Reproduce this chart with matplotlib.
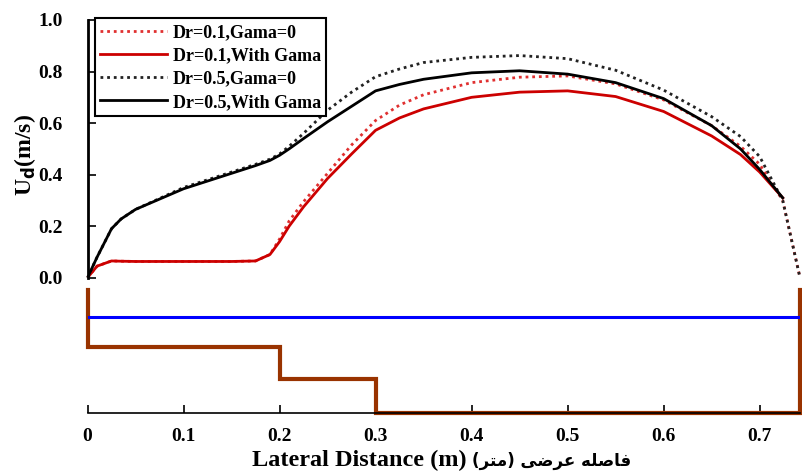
import numpy as np
import matplotlib
matplotlib.use("Agg")
import matplotlib.pyplot as plt

# lateral positions (m)
x_full = [0, 0.01, 0.025, 0.035, 0.05, 0.1, 0.15, 0.175, 0.19, 0.2, 0.21, 0.225, 0.25,
          0.275, 0.3, 0.325, 0.35, 0.4, 0.45, 0.5, 0.55, 0.6, 0.65, 0.68, 0.7,
          0.724, 0.742]
x_gama = x_full[:-1]

# depth averaged velocity Ud (m/s)
dr01_gama0 = [0, 0.045, 0.065, 0.064, 0.063, 0.063, 0.063, 0.065, 0.09, 0.15, 0.22, 0.295,
              0.405, 0.515, 0.61, 0.67, 0.71, 0.757, 0.778, 0.783, 0.752, 0.69,
              0.59, 0.51, 0.44, 0.3, 0.0]
dr01_with = [0, 0.045, 0.065, 0.064, 0.063, 0.063, 0.063, 0.065, 0.09, 0.14, 0.2, 0.275,
             0.385, 0.48, 0.572, 0.62, 0.655, 0.7, 0.72, 0.725, 0.703, 0.645,
             0.55, 0.478, 0.41, 0.31]
dr05_gama0 = [0, 0.08, 0.19, 0.228, 0.265, 0.35, 0.41, 0.44, 0.46, 0.48, 0.51, 0.56,
              0.65, 0.72, 0.78, 0.81, 0.835, 0.855, 0.862, 0.85, 0.805, 0.728,
              0.625, 0.548, 0.47, 0.3, 0.0]
dr05_with = [0, 0.08, 0.19, 0.228, 0.265, 0.345, 0.405, 0.435, 0.455, 0.475, 0.5, 0.54,
             0.605, 0.665, 0.725, 0.75, 0.77, 0.795, 0.803, 0.79, 0.757, 0.695,
             0.59, 0.5, 0.42, 0.31]

# channel cross section (drawn below the velocity profile)
section_x = [0, 0, 0.2, 0.2, 0.3, 0.3, 0.742, 0.742]
section_y = [-0.047, -0.268, -0.268, -0.392, -0.392, -0.525, -0.525, -0.047]
water_x = [0, 0.742]
water_y = [-0.151, -0.151]

xticks = [0, 0.1, 0.2, 0.3, 0.4, 0.5, 0.6, 0.7]
xticklabels = ["0", "0.1", "0.2", "0.3", "0.4", "0.5", "0.6", "0.7"]
yticks = [0, 0.2, 0.4, 0.6, 0.8, 1.0]
yticklabels = ["0.0", "0.2", "0.4", "0.6", "0.8", "1.0"]

plt.rcParams['font.family'] = ['Liberation Serif', 'DejaVu Sans']
plt.rcParams['font.weight'] = 'bold'

fig = plt.figure(figsize=(8.02, 4.72), dpi=100)
ax = fig.add_axes([87.5 / 802, 59 / 472, 712.5 / 802, 393 / 472])

ax.plot(section_x, section_y, color='#993300', lw=3, solid_joinstyle='miter', clip_on=False)
ax.plot(water_x, water_y, color='#0000ff', lw=2.2)

ax.plot(x_full, dr01_gama0, color='#e03030', lw=2, ls=(0, (1, 1.4)), label='Dr=0.1,Gama=0', clip_on=False)
ax.plot(x_gama, dr01_with, color='#cc0000', lw=2, label='Dr=0.1,With Gama')
ax.plot(x_full, dr05_gama0, color='#222222', lw=2, ls=(0, (1, 1.4)), label='Dr=0.5,Gama=0', clip_on=False)
ax.plot(x_gama, dr05_with, color='black', lw=2, label='Dr=0.5,With Gama')

ax.set_xlim(0, 0.742)
ax.set_ylim(-0.525, 1.0)

ax.spines['top'].set_visible(False)
ax.spines['right'].set_visible(False)
ax.spines['left'].set_bounds(0, 1.0)
ax.spines['left'].set_linewidth(2)
ax.spines['bottom'].set_linewidth(1.2)

ax.set_xticks(xticks)
ax.set_xticklabels(xticklabels, fontsize=14, fontweight='bold')
ax.set_yticks(yticks)
ax.set_yticklabels(yticklabels, fontsize=14, fontweight='bold')
ax.tick_params(axis='both', direction='in', length=6, width=1.2)
ax.tick_params(axis='x', pad=11)
ax.tick_params(axis='y', pad=18)

ax.set_ylabel(r'U$_\mathbf{d}$(m/s)', fontsize=17, fontweight='bold')
ax.yaxis.set_label_coords(-0.07, 0.656)

# x label: English in Times style, Persian part smaller
arabic = "(\uFEAE\uFE98\uFEE3) \uFEF0\uFEBF\uFEAE\uFECB \uFEEA\uFEE0\uFEBB\uFE8E\uFED3"
fig.text(467 / 802, 6 / 472, 'Lateral Distance (m)', ha='right', va='baseline',
         fontsize=17.5, fontweight='bold', family='Liberation Serif')
fig.text(472 / 802, 6 / 472, arabic, ha='left', va='baseline',
         fontsize=12, fontweight='bold', family=['DejaVu Sans'])

leg = ax.legend(loc='upper left', bbox_to_anchor=(0.0105, 1.004), borderaxespad=0,
                prop={'family': 'Liberation Serif', 'weight': 'bold', 'size': 13},
                handlelength=3.7, handletextpad=0.3, labelspacing=0.35,
                fancybox=False, framealpha=1, edgecolor='black', borderpad=0.3)
leg.get_frame().set_linewidth(1.5)

fig.savefig('out.png', dpi=100)
